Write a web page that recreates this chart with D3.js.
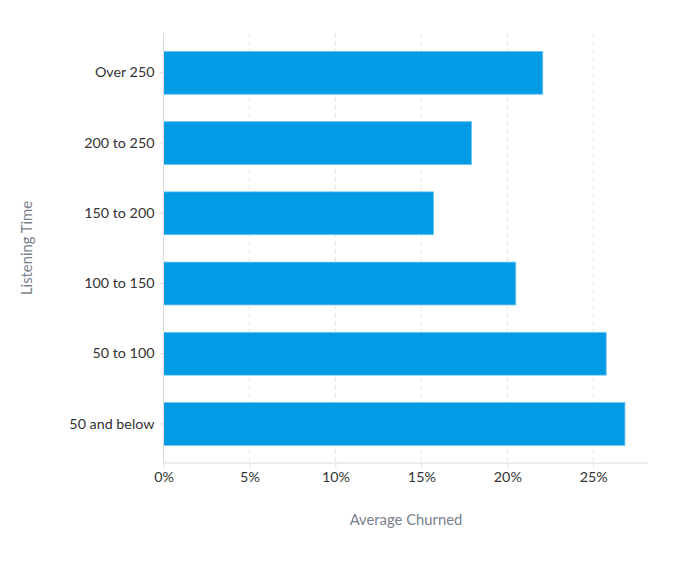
<!DOCTYPE html>
<html><head><meta charset="utf-8">
<script src="https://cdn.jsdelivr.net/npm/d3@7"></script>
<style>body{margin:0;background:#fff;} text{font-family:Lato,"Open Sans",sans-serif;}</style>
</head><body><svg id="c" width="693" height="561"></svg>
<script>
const categories = ["Over 250","200 to 250","150 to 200","100 to 150","50 to 100","50 and below"];
const values = [22.06, 17.92, 15.71, 20.49, 25.75, 26.84];
const xTicks = [0,5,10,15,20,25];
const xTitle = "Average Churned";
const yTitle = "Listening Time";

(function(){
const svg = d3.select("#c");
const pL = 163.5, pR = 648, pT = 33, pB = 463;
const x = d3.scaleLinear().domain([0, d3.max(values)*1.05]).range([pL, pR]);
const y = d3.scaleBand().domain(categories).range([37.7, 459.1]).paddingInner(0.39).paddingOuter(0.195);

// grid
svg.append("g").selectAll("line").data(xTicks.slice(1)).join("line")
  .attr("x1", d=>x(d)).attr("x2", d=>x(d)).attr("y1", pT).attr("y2", pB)
  .attr("stroke","#e3e3e3").attr("stroke-dasharray","4,4");

// bars
svg.append("g").selectAll("rect").data(categories).join("rect")
  .attr("x", x(0)).attr("y", d=>y(d))
  .attr("width", (d,i)=>x(values[i])-x(0)).attr("height", y.bandwidth())
  .attr("fill","#039be5").attr("stroke","#6cc6f2").attr("stroke-width",0.8);

// x axis
const xa = svg.append("g").attr("transform",`translate(0,${pB})`)
  .call(d3.axisBottom(x).tickValues(xTicks).tickFormat(d=>d+"%").tickSize(5).tickPadding(4));
xa.select(".domain").attr("stroke","#d9d9df").attr("d",`M${pL},0H${pR}`);
xa.selectAll(".tick line").attr("stroke","#e3e3e3");
xa.selectAll("text").attr("fill","#333").style("font-size","14.3px").style("font-family","Lato");

// y axis
const ya = svg.append("g").attr("transform",`translate(${pL},0)`)
  .call(d3.axisLeft(y).tickSize(4).tickPadding(5));
ya.select(".domain").attr("stroke","#d9d9df").attr("d",`M0,${pT}V${pB}`);
ya.selectAll(".tick line").attr("stroke","#d9d9df");
ya.selectAll("text").attr("fill","#333").style("font-size","14.3px").style("font-family","Lato");

// titles
svg.append("text").attr("x",406).attr("y",525).attr("text-anchor","middle")
  .attr("fill","#7a7f8c").style("font-size","14.8px").text(xTitle);
svg.append("text").attr("transform","translate(32,248) rotate(-90)").attr("text-anchor","middle")
  .attr("fill","#7a7f8c").style("font-size","14.8px").text(yTitle);
})();
</script></body></html>
